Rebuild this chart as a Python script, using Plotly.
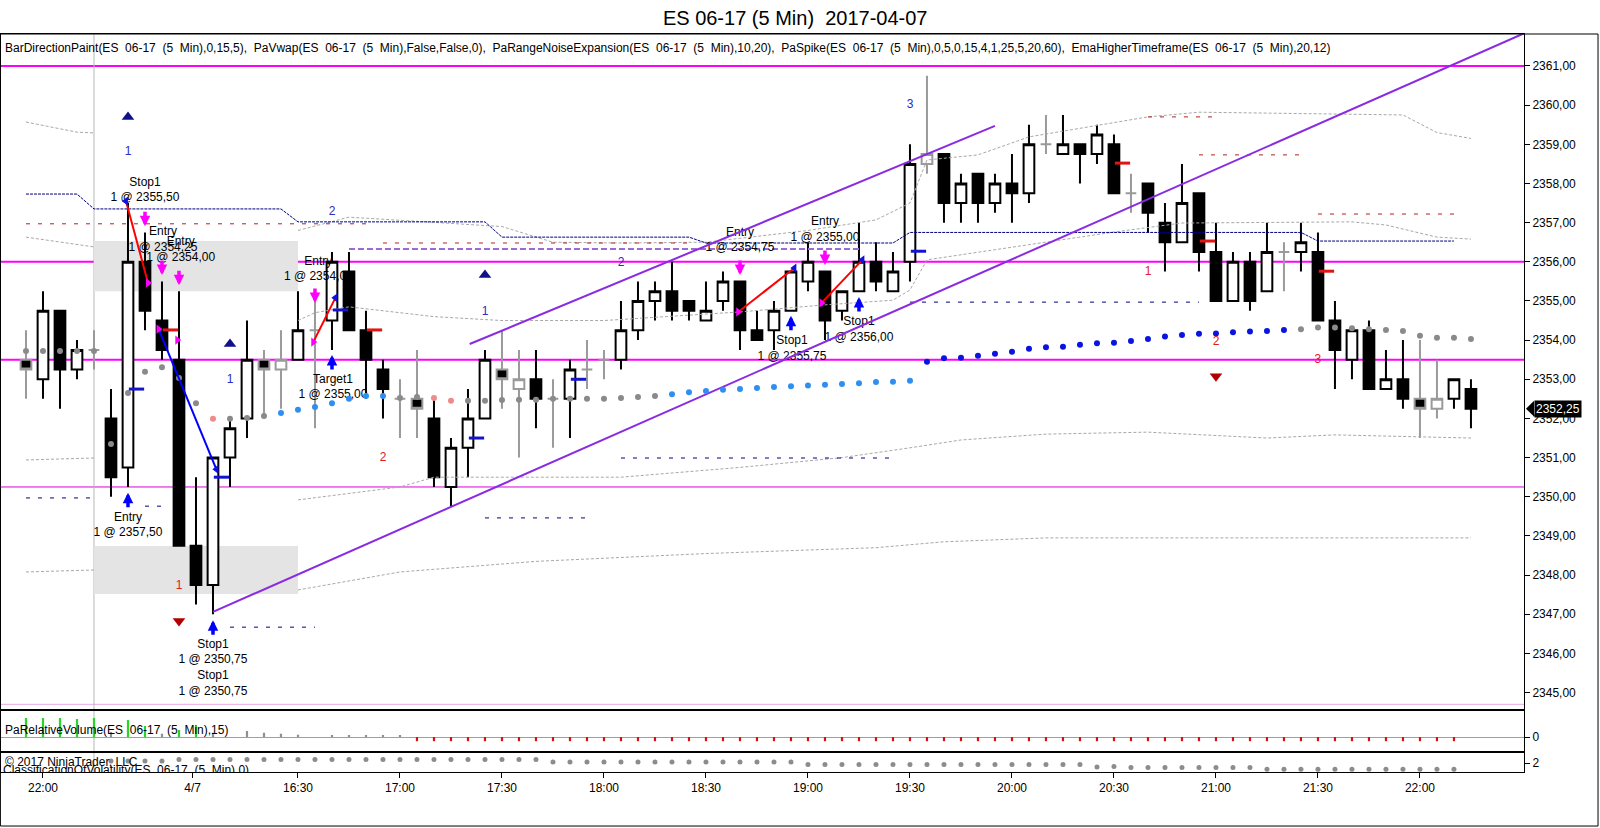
import plotly.graph_objects as go
from plotly.subplots import make_subplots

FONT = "Liberation Sans, Arial, sans-serif"

# ---- price bars (5 min), index 0..85 ----
opens = [2353.5, 2353.0, 2354.75, 2353.25, 2353.75, 2352.0, 2350.75, 2356.0, 2354.5, 2353.5,
         2348.75, 2347.75, 2351.0, 2352.0, 2353.5, 2353.25, 2353.5, 2354.25, 2354.5, 2355.75,
         2354.25, 2353.25, 2352.5, 2352.5, 2352.0, 2350.25, 2351.25, 2352.0, 2353.25, 2352.75,
         2353.0, 2352.5, 2352.5, 2353.25, 2353.5, 2353.5, 2354.25, 2355.0, 2355.25, 2355.0,
         2354.5, 2355.0, 2355.5, 2354.25, 2354.25, 2354.75, 2355.5, 2355.75, 2354.75, 2355.25,
         2356.0, 2355.25, 2356.0, 2358.5, 2358.75, 2357.5, 2358.25, 2357.5, 2358.0, 2357.75,
         2359.0, 2358.75, 2359.0, 2358.75, 2359.0, 2357.75, 2358.0, 2357.0, 2356.5, 2357.75,
         2356.25, 2355.0, 2356.0, 2355.25, 2356.25, 2356.25, 2356.25, 2354.5, 2353.5, 2354.25,
         2352.75, 2353.0, 2352.5, 2352.25, 2352.5, 2352.75]
highs = [2354.25, 2355.25, 2354.75, 2354.0, 2354.25, 2352.75, 2357.5, 2356.75, 2355.5, 2355.25,
         2350.5, 2351.0, 2352.0, 2354.5, 2353.75, 2354.25, 2355.25, 2355.0, 2356.25, 2356.25,
         2354.75, 2353.5, 2353.0, 2353.75, 2352.5, 2351.5, 2352.75, 2353.75, 2354.25, 2353.75,
         2353.75, 2353.0, 2353.5, 2354.0, 2353.75, 2355.0, 2355.5, 2355.5, 2356.0, 2355.0,
         2355.5, 2355.75, 2355.5, 2354.75, 2355.0, 2355.75, 2356.5, 2355.75, 2355.25, 2357.0,
         2356.5, 2356.25, 2359.0, 2360.75, 2358.75, 2358.25, 2358.25, 2358.25, 2358.75, 2359.5,
         2359.75, 2359.75, 2359.0, 2359.5, 2359.25, 2358.25, 2358.0, 2357.5, 2358.5, 2357.75,
         2357.0, 2356.25, 2356.25, 2357.0, 2356.5, 2357.0, 2356.75, 2355.0, 2354.25, 2354.5,
         2353.75, 2354.0, 2354.0, 2353.5, 2353.0, 2353.0]
lows = [2352.5, 2352.5, 2352.25, 2353.0, 2353.25, 2350.0, 2350.25, 2354.25, 2353.5, 2348.75,
        2347.25, 2347.0, 2350.25, 2351.5, 2352.0, 2352.25, 2353.5, 2351.75, 2353.75, 2354.25,
        2352.5, 2352.0, 2351.5, 2351.5, 2350.25, 2349.75, 2350.5, 2352.0, 2352.25, 2351.0,
        2351.75, 2351.25, 2351.5, 2352.75, 2353.0, 2353.25, 2354.0, 2354.5, 2354.5, 2354.5,
        2354.5, 2354.75, 2353.75, 2354.0, 2353.75, 2354.75, 2355.25, 2354.0, 2354.5, 2355.25,
        2355.25, 2355.25, 2355.5, 2358.25, 2357.0, 2357.0, 2357.0, 2357.25, 2357.0, 2357.5,
        2358.75, 2358.75, 2358.0, 2358.5, 2357.75, 2357.25, 2356.75, 2355.75, 2356.5, 2355.75,
        2355.0, 2355.0, 2354.75, 2355.25, 2355.25, 2355.75, 2354.5, 2352.75, 2353.0, 2352.75,
        2352.75, 2352.25, 2351.5, 2352.0, 2352.25, 2351.75]
closes = [2353.25, 2354.75, 2353.25, 2353.75, 2353.75, 2350.5, 2356.0, 2354.75, 2353.75, 2348.75,
          2347.75, 2351.0, 2351.75, 2353.5, 2353.25, 2353.5, 2354.25, 2354.25, 2356.0, 2354.25,
          2353.5, 2352.75, 2352.5, 2352.25, 2350.5, 2351.25, 2352.0, 2353.5, 2353.0, 2353.0,
          2352.5, 2352.5, 2353.25, 2353.25, 2353.5, 2354.25, 2355.0, 2355.25, 2354.75, 2354.75,
          2354.75, 2355.5, 2354.25, 2354.0, 2354.75, 2355.75, 2356.0, 2354.5, 2355.25, 2356.0,
          2355.5, 2355.75, 2358.5, 2358.75, 2357.5, 2358.0, 2357.5, 2358.0, 2357.75, 2359.0,
          2359.0, 2359.0, 2358.75, 2359.25, 2357.75, 2357.75, 2357.25, 2356.5, 2357.5, 2356.25,
          2355.0, 2356.0, 2355.0, 2356.25, 2356.25, 2356.5, 2354.5, 2353.75, 2354.25, 2352.75,
          2353.0, 2352.5, 2352.25, 2352.5, 2353.0, 2352.25]
# bars painted gray (BarDirectionPaint)
gray_bars = [0, 4, 14, 15, 17, 22, 23, 28, 29, 31, 33, 34, 53, 60, 65, 74, 82, 83]

# ---- EmaHigherTimeframe dots ----
ema_vals = [2353.72, 2353.72, 2353.72, 2353.72, 2353.72, 2351.35, 2352.65, 2353.19, 2353.31, 2353.03,
            2352.39, 2351.99, 2351.99, 2352.01, 2352.06, 2352.14, 2352.22, 2352.29, 2352.39, 2352.50,
            2352.57, 2352.57, 2352.52, 2352.55, 2352.52, 2352.45, 2352.45, 2352.45, 2352.47, 2352.48,
            2352.48, 2352.50, 2352.50, 2352.50, 2352.50, 2352.52, 2352.55, 2352.57, 2352.62, 2352.67,
            2352.70, 2352.73, 2352.75, 2352.78, 2352.80, 2352.82, 2352.84, 2352.86, 2352.88, 2352.90,
            2352.93, 2352.94, 2352.96, 2353.45, 2353.54, 2353.55, 2353.60, 2353.65, 2353.70, 2353.78,
            2353.82, 2353.83, 2353.88, 2353.92, 2353.93, 2353.98, 2354.03, 2354.09, 2354.13, 2354.16,
            2354.17, 2354.20, 2354.22, 2354.23, 2354.26, 2354.28, 2354.32, 2354.32, 2354.30, 2354.28,
            2354.26, 2354.23, 2354.11, 2354.06, 2354.06, 2354.03]
ema_state = "GGGGGGGGGGGSGGGDDDDDDDGGSSGGGGGGGGGGGGDDDDDDDDDDDDDDDBBBBBBBBBBBBBBBBBBBBBBGGGGGGGGGGG"
ema_colors = {"G": "#8a8a8a", "S": "#ef8a8a", "D": "#2f8ff0", "B": "#0a14e0"}

# ---- PaRangeNoiseExpansion bands (bar index, price) ----
band_lines = [
    ([0, 3, 4], [2359.57, 2359.31, 2359.29]),
    ([0, 3, 4], [2356.63, 2356.43, 2356.38]),
    ([0, 4], [2350.94, 2350.99]),
    ([0, 4], [2348.08, 2348.13]),
    ([16, 19, 28, 31, 35, 40, 46, 50, 52, 53, 56, 59, 66, 69, 81, 83, 85],
     [2356.8, 2357.14, 2356.9, 2356.5, 2356.48, 2356.5, 2356.8, 2357.07, 2357.5, 2358.6,
      2358.73, 2359.19, 2359.7, 2359.82, 2359.75, 2359.3, 2359.15]),
    ([16, 17, 19, 24, 28, 34, 42, 47, 51, 52, 53, 58, 64, 68, 78, 80, 83, 85],
     [2354.5, 2354.7, 2354.85, 2354.6, 2354.5, 2354.5, 2354.72, 2354.9, 2355.02, 2355.28,
      2356.05, 2356.38, 2356.76, 2356.99, 2357.02, 2356.94, 2356.63, 2356.58]),
    ([16, 22, 24, 35, 42, 48, 52, 55, 60, 66, 73, 77, 82, 85],
     [2349.92, 2350.25, 2350.5, 2350.5, 2350.75, 2351.0, 2351.25, 2351.45, 2351.6, 2351.65,
      2351.5, 2351.58, 2351.53, 2351.5]),
    ([16, 22, 30, 40, 50, 54, 60, 85],
     [2347.62, 2348.08, 2348.35, 2348.55, 2348.7, 2348.85, 2348.95, 2348.95]),
]

# ---- PaVwap step line ----
vwap_x = [0, 3, 4, 15, 16, 27, 28, 39, 40, 51, 52, 75, 76, 84]
vwap_y = [2357.73, 2357.73, 2357.35, 2357.35, 2357.02, 2357.02, 2356.63, 2356.63,
          2356.48, 2356.48, 2356.75, 2356.75, 2356.53, 2356.53]

# short level segments: (start bar, end bar, price)
navy_levels = [(0, 4, 2349.97), (7, 8, 2349.76), (12, 17, 2346.67), (27, 33, 2349.46),
               (35, 51, 2350.99), (52, 69, 2354.97)]
red_levels = [(0, 20, 2356.97), (21, 39, 2356.48), (66, 70, 2359.7), (69, 75, 2358.73),
              (76, 84, 2357.22)]
purple_level = (19, 49, 2356.33)

# horizontal drawing lines
hline_prices = [2361.0, 2356.0, 2353.5]
hline_thin = 2350.25
hline_pink = 2344.7

# shaded zones: (start bar, end bar, low, high)
zones = [(4, 16, 2355.25, 2356.53), (4, 16, 2347.52, 2348.74)]

# trend channel lines (bar index, price)
trend_lines = [([11, 88.2], [2347.06, 2361.85]), ([26.1, 57], [2353.9, 2359.47])]

# PaSpike ticks
blue_ticks_x = [6, 11, 18, 26, 32, 52]
blue_ticks_y = [2352.75, 2350.5, 2354.77, 2351.5, 2353.0, 2356.27]
red_ticks_x = [8, 20, 64, 69, 76]
red_ticks_y = [2354.26, 2354.26, 2358.52, 2356.53, 2355.76]

# swing markers
up_tri_x = [6, 12, 27]
up_tri_y = [2359.7, 2353.9, 2355.66]
dn_tri_x = [9, 70]
dn_tri_y = [2346.83, 2353.08]
blue_num = [(6, 2358.8, "1"), (18, 2357.27, "2"), (12, 2352.98, "1"), (27, 2354.72, "1"),
            (35, 2355.97, "2"), (52, 2360.0, "3")]
red_num = [(9, 2347.72, "1"), (21, 2351.0, "2"), (66, 2355.74, "1"), (70, 2353.95, "2"),
           (76, 2353.49, "3")]

# executions
exec_text = ["Stop1<br>1 @ 2355,50", "Entry<br>1 @ 2354,25", "Entry<br>1 @ 2354,00",
             "Entry<br>1 @ 2357,50", "Stop1<br>1 @ 2350,75", "Stop1<br>1 @ 2350,75",
             "Entry<br>1 @ 2354,00", "Target1<br>1 @ 2355,00", "Entry<br>1 @ 2354,75",
             "Entry<br>1 @ 2355,00", "Stop1<br>1 @ 2355,75", "Stop1<br>1 @ 2356,00"]
exec_text_x = [7.0, 8.06, 9.1, 6.0, 11.0, 11.0, 17.2, 18.06, 42.0, 47.0, 45.06, 49.0]
exec_text_y = [2357.82, 2356.56, 2356.3, 2349.27, 2346.02, 2345.22, 2355.8, 2352.79,
               2356.54, 2356.81, 2353.77, 2354.26]
mag_arrow_x = [7, 8, 9, 17, 42, 47]
mag_arrow_y = [2356.91, 2355.66, 2355.4, 2354.95, 2355.66, 2355.92]
blue_arrow_x = [6, 11, 18, 45, 49]
blue_arrow_y = [2350.1, 2346.85, 2353.62, 2354.62, 2355.1]
red_trades = [([5.88, 7.18], [2357.55, 2355.46]), ([16.9, 18.2], [2353.95, 2355.08]),
              ([41.9, 45.2], [2354.72, 2355.84]), ([46.8, 49.2], [2354.95, 2356.05])]
blue_trades = [([7.8, 11.2], [2354.28, 2350.7])]
entry_mark_x = [7.18, 7.8, 8.9, 16.9, 41.9, 46.8]
entry_mark_y = [2355.46, 2354.28, 2354.0, 2353.95, 2354.72, 2354.95]
exit_mark_x = [5.88, 11.2, 18.2, 45.2, 49.2]
exit_mark_y = [2357.55, 2350.7, 2355.08, 2355.84, 2356.05]

# ---- PaRelativeVolume ----
relvol = [1.9, 1.9, 1.9, 1.8, 1.9, 0.5, 1.7, 1.1, 0.33, 0.7,
          1.1, 0.43, 0.0, 0.6, 0.43, 0.33, 0.23, 0.0, 0.13, 0.13,
          0.13, 0.13, 0.13] + [-0.42] * 62
relvol_color = (["#2bd42b"] * 5 + ["#909090"] + ["#2bd42b"] * 2 + ["#909090"] + ["#2bd42b"] * 2
                + ["#909090"] * 12 + ["#d81010"] * 62)

# ---- ClassificationOfVolatility ----
vol_cls_x = list(range(5, 85))
vol_cls = ([2.2] * 4 + [2.35] * 22 + [2.1] * 15 + [1.85] * 17 + [1.6, 1.65]
           + [1.55] * 8 + [1.37] * 12)

tick_pos = [1, 9.8, 16, 22, 28, 34, 40, 46, 52, 58, 64, 70, 76, 82]
tick_text = ["22:00", "4/7", "16:30", "17:00", "17:30", "18:00", "18:30", "19:00",
             "19:30", "20:00", "20:30", "21:00", "21:30", "22:00"]
price_ticks = list(range(2345, 2362))
last_price = closes[-1]

fig = make_subplots(rows=3, cols=1, shared_xaxes=True, vertical_spacing=0,
                    row_heights=[676, 42, 20])


def line(xs, ys, color, width=1, dash=None, row=1):
    fig.add_trace(go.Scatter(x=xs, y=ys, mode="lines", hoverinfo="skip",
                             line=dict(color=color, width=width, dash=dash)), row=row, col=1)


for bx, by in band_lines:
    line(bx, by, "#a8a8a8", 1, "3px,2px")
line(vwap_x, vwap_y, "#000080", 1, "3px,1px")
for a, b, p in navy_levels:
    line([a, b], [p, p], "#000080", 1, "4px,8px")
for a, b, p in red_levels:
    line([a, b], [p, p], "#b02020", 1, "4px,8px")
line([purple_level[0], purple_level[1]], [purple_level[2]] * 2, "#9a6ad8", 2, "6px,3px")

# execution texts (behind the candles)
fig.add_trace(go.Scatter(x=exec_text_x, y=exec_text_y, mode="text", text=exec_text,
                         textfont=dict(family=FONT, size=12, color="black"),
                         hoverinfo="skip"), row=1, col=1)

norm = [i for i in range(len(opens)) if i not in gray_bars]
for idx, edge in ((norm, "black"), (gray_bars, "#9a9a9a")):
    fig.add_trace(go.Candlestick(
        x=idx, open=[opens[i] for i in idx], high=[highs[i] for i in idx],
        low=[lows[i] for i in idx], close=[closes[i] for i in idx],
        increasing=dict(fillcolor="white", line=dict(color=edge, width=2)),
        decreasing=dict(fillcolor="black", line=dict(color=edge, width=2)),
        whiskerwidth=0, hoverinfo="skip"), row=1, col=1)

for tx, ty in trend_lines:
    line(tx, ty, "#8a2be2", 2)

fig.add_trace(go.Scatter(x=list(range(len(ema_vals))), y=ema_vals, mode="markers",
                         marker=dict(size=6, color=[ema_colors[s] for s in ema_state]),
                         hoverinfo="skip"), row=1, col=1)

for tx, ty in zip(blue_ticks_x, blue_ticks_y):
    line([tx + 0.05, tx + 0.95], [ty, ty], "#1414d0", 3)
for tx, ty in zip(red_ticks_x, red_ticks_y):
    line([tx + 0.05, tx + 0.95], [ty, ty], "#e01414", 3)

fig.add_trace(go.Scatter(x=up_tri_x, y=up_tri_y, mode="markers", hoverinfo="skip",
                         marker=dict(symbol="triangle-up", size=11, color="#10108a")), row=1, col=1)
fig.add_trace(go.Scatter(x=dn_tri_x, y=dn_tri_y, mode="markers", hoverinfo="skip",
                         marker=dict(symbol="triangle-down", size=11, color="#b00000")), row=1, col=1)

for tx, ty in red_trades:
    line(tx, ty, "#ff0000", 2)
for tx, ty in blue_trades:
    line(tx, ty, "#0000ff", 2)
fig.add_trace(go.Scatter(x=entry_mark_x, y=entry_mark_y, mode="markers", hoverinfo="skip",
                         marker=dict(symbol="triangle-right", size=8, color="#ff00ff")), row=1, col=1)
fig.add_trace(go.Scatter(x=exit_mark_x, y=exit_mark_y, mode="markers", hoverinfo="skip",
                         marker=dict(symbol="triangle-left", size=8, color="#1010e0")), row=1, col=1)

for nums, col in ((blue_num, "#2a2ac8"), (red_num, "#e02020")):
    fig.add_trace(go.Scatter(x=[n[0] for n in nums], y=[n[1] for n in nums], mode="text",
                             text=[n[2] for n in nums], hoverinfo="skip",
                             textfont=dict(family=FONT, size=12, color=col)), row=1, col=1)

# lower panels
fig.add_trace(go.Bar(x=list(range(len(relvol))), y=relvol, width=0.13,
                     marker=dict(color=relvol_color, line=dict(width=0)),
                     hoverinfo="skip"), row=2, col=1)
fig.add_trace(go.Scatter(x=vol_cls_x, y=vol_cls, mode="markers", hoverinfo="skip",
                         marker=dict(size=5, color="#8c8c8c")), row=3, col=1)
fig.add_trace(go.Scatter(x=[-1.35], y=[1.2], mode="text", cliponaxis=True,
                         text=["ClassificationOfVolatility(ES  06-17  (5  Min),0)"],
                         textposition="middle right", hoverinfo="skip",
                         textfont=dict(family=FONT, size=12, color="black")), row=3, col=1)

# shapes
for p in hline_prices:
    fig.add_shape(type="line", xref="paper", x0=0, x1=1, yref="y", y0=p, y1=p,
                  line=dict(color="#ff00ff", width=2), layer="below")
fig.add_shape(type="line", xref="paper", x0=0, x1=1, yref="y", y0=hline_thin, y1=hline_thin,
              line=dict(color="#dd00dd", width=1), layer="below")
fig.add_shape(type="line", xref="paper", x0=0, x1=1, yref="y", y0=hline_pink, y1=hline_pink,
              line=dict(color="#e8a8e8", width=1), layer="below")
for a, b, lo, hi in zones:
    fig.add_shape(type="rect", xref="x", yref="y", x0=a, x1=b, y0=lo, y1=hi,
                  fillcolor="#e4e4e4", line=dict(width=0), layer="below")
fig.add_shape(type="line", xref="x", yref="paper", x0=4, x1=4, y0=0, y1=1,
              line=dict(color="#b8b8b8", width=1), layer="below")
fig.add_shape(type="rect", xref="paper", yref="paper", x0=-0.0004, x1=1.0486,
              y0=-0.0732, y1=1, line=dict(color="black", width=1))
fig.add_shape(type="path", xref="paper", yref="y",
              path=f"M 1.0013 {last_price} L 1.0066 {last_price + 0.2} "
                   f"L 1.0066 {last_price - 0.2} Z",
              fillcolor="black", line=dict(width=0))

for xi, yi in zip(mag_arrow_x, mag_arrow_y):
    fig.add_annotation(x=xi, y=yi, xref="x", yref="y", text="", showarrow=True,
                       arrowhead=2, arrowsize=0.6, arrowwidth=3.5, arrowcolor="#ff00ff",
                       ax=0, ay=-16)
for xi, yi in zip(blue_arrow_x, blue_arrow_y):
    fig.add_annotation(x=xi, y=yi, xref="x", yref="y", text="", showarrow=True,
                       arrowhead=2, arrowsize=0.6, arrowwidth=3.5, arrowcolor="#0000ff",
                       ax=0, ay=16)

legend_txt = ("BarDirectionPaint(ES  06-17  (5  Min),0,15,5),  PaVwap(ES  06-17  (5  Min),False,False,0),  "
              "PaRangeNoiseExpansion(ES  06-17  (5  Min),10,20),  "
              "PaSpike(ES  06-17  (5  Min),0,5,0,15,4,1,25,5,20,60),  "
              "EmaHigherTimeframe(ES  06-17  (5  Min),20,12)")
fig.add_annotation(text=legend_txt, xref="paper", yref="paper", x=0.0013, y=0.981,
                   xanchor="left", yanchor="middle", showarrow=False,
                   font=dict(family=FONT, size=12, color="black"))
fig.add_annotation(text="PaRelativeVolume(ES  06-17  (5  Min),15)", xref="paper", yref="paper",
                   x=0.0013, y=0.0569, xanchor="left", yanchor="middle", showarrow=False,
                   font=dict(family=FONT, size=12, color="black"))
fig.add_annotation(text="© 2017 NinjaTrader, LLC", xref="paper", yref="paper",
                   x=0.0013, y=0.0136, xanchor="left", yanchor="middle", showarrow=False,
                   font=dict(family=FONT, size=12, color="black"))
fig.add_annotation(text=f"{last_price:.2f}".replace(".", ","), xref="paper", yref="y",
                   x=1.0066, y=last_price, xanchor="left", yanchor="middle", showarrow=False,
                   bgcolor="black", borderpad=1,
                   font=dict(family=FONT, size=12, color="white"))

fig.update_layout(
    width=1600, height=828, margin=dict(l=1, r=76, t=34, b=56),
    paper_bgcolor="white", plot_bgcolor="white", showlegend=False,
    font=dict(family=FONT, size=12, color="black"),
    boxgap=0.1, boxgroupgap=0.3,
    title=dict(text="ES 06-17 (5 Min)  2017-04-07", x=0.497, xref="container",
               y=0.978, yanchor="middle", font=dict(family=FONT, size=20, color="black")),
)
fig.update_xaxes(range=[-1.47, 88.12], showgrid=False, zeroline=False, showline=True,
                 mirror=True, linecolor="black", linewidth=1, rangeslider_visible=False)
fig.update_xaxes(tickvals=tick_pos, ticktext=tick_text, ticks="outside", ticklen=5,
                 tickcolor="black", tickfont=dict(family=FONT, size=12), row=3, col=1)
fig.update_yaxes(side="right", showgrid=False, zeroline=False, showline=True, mirror=True,
                 linecolor="black", linewidth=1, ticks="outside", ticklen=5, tickcolor="black",
                 tickfont=dict(family=FONT, size=12, color="black"))
fig.update_yaxes(range=[2344.555, 2361.817], tickvals=price_ticks,
                 ticktext=[f"{v},00" for v in price_ticks], row=1, col=1)
fig.update_yaxes(range=[-1.5, 2.7], tickvals=[0], ticktext=["0"], zeroline=True,
                 zerolinecolor="#a0a0a0", zerolinewidth=1, row=2, col=1)
fig.update_yaxes(range=[1.1, 3.1], tickvals=[2], ticktext=["2"], row=3, col=1)

fig.write_html("out.html", config={"displayModeBar": False},
               post_script="document.body.style.margin='0';document.body.style.overflow='hidden';")
